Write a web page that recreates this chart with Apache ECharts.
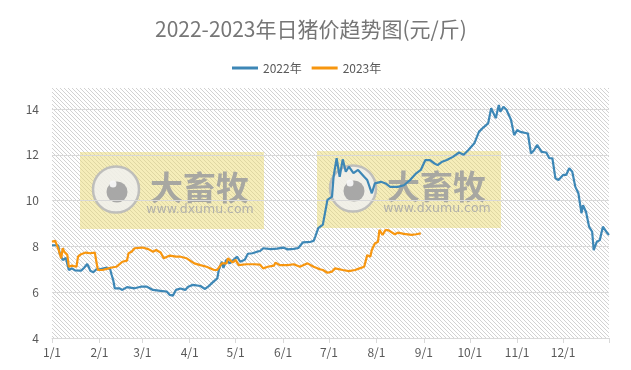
<!DOCTYPE html>
<html>
<head>
<meta charset="utf-8">
<script src="https://cdn.jsdelivr.net/npm/echarts@6/dist/echarts.min.js"></script>
<style>
html,body{margin:0;padding:0;background:#fff;}
#chart{width:631px;height:370px;}
</style>
</head>
<body>
<div id="chart"></div>
<script>
// Month tick labels and their day-of-year positions
const monthLabels = ['1/1','2/1','3/1','4/1','5/1','6/1','7/1','8/1','9/1','10/1','11/1','12/1'];
const monthDays = [0,31,59,90,120,151,181,212,243,273,304,334];
const yearEndDay = 364;

// 2022 daily pig price (day of year, yuan/jin)
const days2022 = [0,4,5,7,9,11,13,15,19,21,23,24,25,27,29,31,36,38,39,40,41,44,46,49,54,58,62,66,71,75,77,79,81,84,87,89,92,97,100,102,105,108,109,111,112,114,116,121,123,126,128,131,134,136,138,143,147,151,154,158,161,164,169,171,172,174,177,180,183,184,186,188,190,192,194,197,200,204,206,209,211,215,218,221,226,230,234,238,241,244,247,250,252,255,258,262,266,269,272,276,279,282,285,287,288,290,292,293,295,297,300,302,304,306,311,313,315,317,320,323,325,327,329,331,334,336,338,340,342,344,346,347,349,351,353,354,356,358,360,361,363,364];
const price2022 = [8.05,8.05,7.7,7.4,7.5,6.97,7.04,6.95,6.94,7.07,7.23,7.1,6.94,6.87,7.0,7.0,7.07,7.0,6.75,6.53,6.17,6.17,6.1,6.22,6.17,6.24,6.24,6.1,6.06,6.03,5.88,5.85,6.1,6.16,6.1,6.24,6.32,6.27,6.14,6.24,6.43,6.6,6.97,7.33,7.06,7.42,7.26,7.55,7.33,7.42,7.68,7.7,7.77,7.8,7.92,7.88,7.9,7.95,7.87,7.89,7.93,8.18,8.2,8.24,8.42,8.8,8.95,10.03,10.17,11.04,11.85,11.04,11.8,11.26,11.48,11.2,11.34,11.04,10.9,10.32,10.75,10.82,10.75,10.6,10.6,10.67,10.9,11.19,11.34,11.77,11.77,11.62,11.55,11.7,11.77,11.91,12.1,12.0,12.2,12.5,13.0,13.2,13.37,14.03,13.97,13.6,14.17,13.88,14.1,13.97,13.52,12.86,13.08,13.0,12.93,12.06,12.2,12.43,12.13,12.1,11.85,11.85,10.97,10.9,11.12,11.12,11.41,11.26,10.6,10.32,9.45,9.8,9.5,8.86,8.64,7.84,8.2,8.28,8.86,8.93,8.57,8.5];

// 2023 daily pig price (day of year, yuan/jin)
const days2023 = [0,2,4,5,6,7,8,10,11,13,16,17,19,22,25,28,29,30,33,37,39,42,46,49,50,52,54,59,63,66,68,71,73,77,81,84,88,93,97,101,106,108,111,114,115,118,120,122,127,132,136,138,141,145,146,149,154,158,162,167,171,175,177,180,183,185,190,194,198,201,204,206,208,209,211,213,214,216,218,220,224,226,230,235,238,241];
const price2023 = [8.2,8.25,7.92,7.7,7.48,7.92,7.77,7.63,7.11,7.16,7.11,7.55,7.66,7.73,7.7,7.73,7.33,6.97,6.97,7.04,7.08,7.11,7.33,7.38,7.7,7.77,7.92,7.95,7.88,7.77,7.84,7.73,7.48,7.6,7.55,7.55,7.48,7.26,7.18,7.11,6.97,6.97,7.26,7.26,7.48,7.3,7.41,7.18,7.22,7.22,7.2,7.04,7.11,7.16,7.29,7.18,7.18,7.22,7.11,7.26,7.11,7.0,6.97,6.85,6.9,7.04,6.97,6.92,6.97,7.04,7.11,7.62,7.55,7.84,8.13,8.2,8.72,8.5,8.72,8.7,8.53,8.6,8.55,8.5,8.53,8.57];

const titleText = '2022-2023年日猪价趋势图(元/斤)';
const seriesNames = ['2022年','2023年'];
const brandText = '大畜牧';
const brandUrl = 'www.dxumu.com';

function pairs(xs, ys){ return xs.map((x,i)=>[x, ys[i]]); }

// hatch pattern tile
const tile = document.createElement('canvas');
tile.width = 4; tile.height = 4;
const tctx = tile.getContext('2d');
tctx.fillStyle = '#d2d2d2';
for (let i = 0; i < 4; i++) tctx.fillRect(i, i, 1, 1);

function watermark(bx, by){
  return {
    type: 'group', x: bx, y: by, z: 100,
    children: [
      {type:'rect', shape:{x:0,y:0,width:184,height:77}, style:{fill:'rgba(236,220,120,0.52)'}},
      {type:'circle', shape:{cx:36,cy:37.5,r:23}, style:{fill:'rgba(240,240,240,0.85)', stroke:'rgba(185,185,185,0.9)', lineWidth:2.5}},
      {type:'circle', shape:{cx:37,cy:40,r:10.5}, style:{fill:'rgba(160,160,160,0.9)'}},
      {type:'circle', shape:{cx:33,cy:32,r:3.5}, style:{fill:'rgba(245,245,245,0.95)'}},
      {type:'text', x:119.5, y:35, style:{text:brandText, fill:'rgba(160,160,160,0.9)', font:'bold 33px "Noto Sans CJK SC"', align:'center', verticalAlign:'middle'}},
      {type:'text', x:120, y:58, style:{text:brandUrl, fill:'rgba(170,170,170,0.9)', font:'12.5px "DejaVu Sans"', align:'center', verticalAlign:'middle'}}
    ]
  };
}

const chart = echarts.init(document.getElementById('chart'), null, {renderer:'canvas'});
chart.setOption({
  backgroundColor: '#ffffff',
  animation: false,
  textStyle: {fontFamily: '"Noto Sans CJK SC", "Noto Sans", sans-serif'},
  title: {
    text: titleText, left: 150, top: 14,
    textStyle: {fontSize: 21, fontWeight: 'normal', color: '#767676', fontFamily: '"Noto Sans CJK SC"'}
  },
  legend: {
    top: 57, left: 227, itemWidth: 26, itemHeight: 3, itemGap: 10, icon: 'rect',
    textStyle: {fontSize: 12, color: '#595959'},
    data: seriesNames
  },
  grid: {left: 52, right: 22, top: 109, bottom: 32},
  graphic: [
    {type:'rect', z:-10, shape:{x:52,y:88,width:557,height:250}, style:{fill:{image: tile, repeat:'repeat'}}, silent:true},
    watermark(80, 152),
    watermark(317, 151)
  ],
  xAxis: {
    type: 'value', min: 0, max: yearEndDay,
    axisLine: {show: true, lineStyle: {color: '#d9d9d9', width: 1}},
    axisTick: {show: true, customValues: monthDays.concat([yearEndDay]), length: 5, lineStyle: {color: '#d9d9d9'}},
    axisLabel: {customValues: monthDays, formatter: v => monthLabels[monthDays.indexOf(v)] || '', color: '#595959', fontSize: 12, margin: 8},
    splitLine: {show: false}
  },
  yAxis: {
    type: 'value', min: 4, max: 14, interval: 2,
    axisLine: {show: false}, axisTick: {show: false},
    axisLabel: {color: '#595959', fontSize: 12, margin: 13},
    splitLine: {lineStyle: {color: '#d9d9d9', width: 1}}
  },
  series: [
    {name: seriesNames[0], type: 'line', data: pairs(days2022, price2022), symbol: 'none', clip: false,
     lineStyle: {color: '#3d87b6', width: 2.2}, itemStyle: {color: '#3d87b6'}, z: 3},
    {name: seriesNames[1], type: 'line', data: pairs(days2023, price2023), symbol: 'none', clip: false,
     lineStyle: {color: '#f7960f', width: 2.2}, itemStyle: {color: '#f7960f'}, z: 4}
  ]
});
</script>
</body>
</html>
